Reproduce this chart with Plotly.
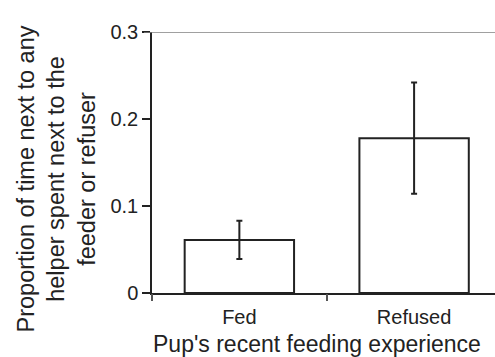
import plotly.graph_objects as go

categories = ["Fed", "Refused"]
means = [0.061, 0.178]
errors = [0.022, 0.064]
y_ticks = [0, 0.1, 0.2, 0.3]
y_tick_labels = ["0", "0.1", "0.2", "0.3"]
x_title = "Pup's recent feeding experience"
y_title = "Proportion of time next to any<br>helper spent next to the<br>feeder or refuser"

pos = list(range(len(categories)))
dark = "#222222"
font = "Liberation Sans, Arial, sans-serif"

fig = go.Figure()
fig.add_trace(go.Bar(
    x=pos, y=means, width=0.626,
    marker=dict(color="white", line=dict(color=dark, width=2)),
    error_y=dict(type="data", array=errors, visible=True, color=dark, thickness=2, width=3),
    showlegend=False,
))
# invisible trace to activate the overlay axis for boundary ticks
fig.add_trace(go.Scatter(x=[pos[0]], y=[0], xaxis="x2", mode="markers",
                         marker=dict(opacity=0), showlegend=False, hoverinfo="skip"))

xr = [-0.5, 1.463]
fig.update_layout(
    width=495, height=357,
    margin=dict(l=152, r=0, t=32, b=64),
    paper_bgcolor="white", plot_bgcolor="white",
    font=dict(family=font, color=dark),
    xaxis=dict(range=xr, tickvals=pos, ticktext=categories, ticks="",
               showline=True, linecolor=dark, linewidth=1.5, showgrid=False, zeroline=False,
               tickfont=dict(size=20, color=dark), ticklabelstandoff=5, fixedrange=True),
    xaxis2=dict(range=xr, overlaying="x", side="bottom", tickvals=[-0.5, 0.5, 1.5],
                ticktext=["", "", ""], ticks="outside", ticklen=7, tickwidth=1.5,
                tickcolor="#555555", showline=False, showgrid=False, zeroline=False),
    yaxis=dict(range=[0, 0.3], tickvals=y_ticks, ticktext=y_tick_labels, ticks="outside",
               ticklen=8, tickwidth=1.5, tickcolor=dark, showline=True, linecolor=dark,
               linewidth=1.5, showgrid=False, zeroline=False,
               tickfont=dict(size=20, color=dark)),
    shapes=[dict(type="line", xref="paper", yref="y", x0=-8/343, x1=1, y0=0.3, y1=0.3,
                 line=dict(color="#808080", width=1.5))],
    annotations=[
        dict(text=x_title, xref="paper", yref="paper", x=0.5, y=0, xanchor="center",
             yanchor="middle", yshift=-51, xshift=-7, showarrow=False,
             font=dict(size=23, color=dark)),
        dict(text=y_title, xref="paper", yref="paper", x=0, y=0.435, xanchor="center",
             yanchor="middle", xshift=-96, textangle=-90, showarrow=False,
             font=dict(size=23.5, color=dark)),
    ],
)

fig.write_html("out.html")
